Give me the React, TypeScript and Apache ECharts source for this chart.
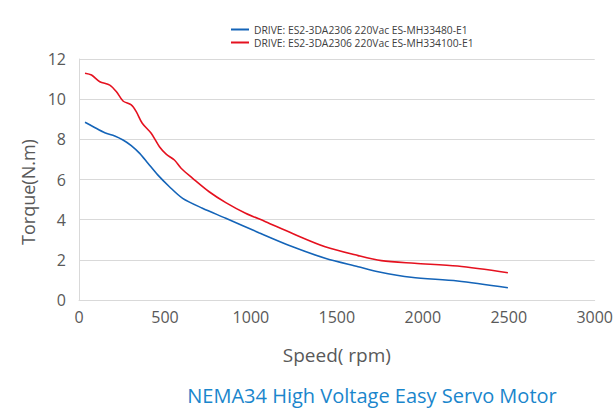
import React, { useEffect, useRef } from "react";
import * as echarts from "echarts";

const xTicks = [0, 500, 1000, 1500, 2000, 2500, 3000];
const yTicks = [0, 2, 4, 6, 8, 10, 12];

const seriesNames = [
  "DRIVE: ES2-3DA2306 220Vac ES-MH33480-E1",
  "DRIVE: ES2-3DA2306 220Vac ES-MH334100-E1",
];

const blueSpeed = [35, 83, 150, 208, 256, 304, 353, 401, 458, 526, 603, 718, 854, 1046, 1239, 1432, 1624, 1740, 1932, 2202, 2495];
const blueTorque = [8.85, 8.63, 8.33, 8.17, 7.97, 7.69, 7.3, 6.81, 6.23, 5.64, 5.06, 4.57, 4.07, 3.35, 2.66, 2.08, 1.66, 1.41, 1.13, 0.95, 0.61];

const redSpeed = [35, 73, 121, 179, 218, 256, 304, 333, 368, 420, 468, 507, 555, 594, 661, 757, 854, 969, 1085, 1239, 1432, 1624, 1759, 1952, 2202, 2495];
const redTorque = [11.29, 11.2, 10.87, 10.7, 10.37, 9.91, 9.71, 9.38, 8.8, 8.3, 7.63, 7.26, 6.97, 6.56, 6.06, 5.39, 4.85, 4.32, 3.9, 3.32, 2.65, 2.21, 1.96, 1.83, 1.69, 1.36];

const chartTitle = "NEMA34 High Voltage Easy Servo Motor";
const xName = "Speed( rpm)";
const yName = "Torque(N.m)";

const FONT = "'Open Sans', 'Noto Sans', sans-serif";

export default function App() {
  const ref = useRef<HTMLDivElement>(null);
  useEffect(() => {
    if (!ref.current) return;
    const chart = echarts.init(ref.current, undefined, { renderer: "svg" });
    const zip = (xs: number[], ys: number[]) => xs.map((x, i) => [x, ys[i]]);
    chart.setOption({
      animation: false,
      textStyle: { fontFamily: FONT },
      legend: {
        orient: "vertical",
        left: 226,
        top: 19,
        icon: "rect",
        itemWidth: 18,
        itemHeight: 2,
        itemGap: 2,
        textStyle: { fontSize: 10.3, lineHeight: 11, color: "#404040", fontFamily: FONT },
        data: seriesNames,
      },
      grid: { left: 79, right: 18, top: 59, bottom: 108, containLabel: false },
      xAxis: {
        type: "value",
        min: xTicks[0],
        max: xTicks[xTicks.length - 1],
        interval: 500,
        axisLine: { show: true, lineStyle: { color: "#d9d9d9", width: 1 } },
        axisTick: { show: false },
        splitLine: { show: false },
        axisLabel: {
          color: "#595959",
          fontSize: 16,
          margin: 9,
          fontFamily: FONT,
          formatter: (v: number) => String(v),
        },
        name: xName,
        nameLocation: "middle",
        nameGap: 45,
        nameTextStyle: { color: "#595959", fontSize: 19, fontFamily: FONT },
      },
      yAxis: {
        type: "value",
        min: yTicks[0],
        max: yTicks[yTicks.length - 1],
        interval: 2,
        axisLine: { show: true, lineStyle: { color: "#d9d9d9", width: 1 } },
        axisTick: { show: false },
        splitLine: { show: true, lineStyle: { color: "#d9d9d9", width: 1 } },
        axisLabel: {
          color: "#595959",
          fontSize: 16,
          margin: 13,
          fontFamily: FONT,
          formatter: (v: number) => String(v),
        },
      },
      series: [
        {
          name: seriesNames[0],
          type: "line",
          data: zip(blueSpeed, blueTorque),
          smooth: 0.3,
          showSymbol: false,
          symbol: "none",
          itemStyle: { color: "#1464b8" },
          lineStyle: { color: "#1464b8", width: 1.6 },
        },
        {
          name: seriesNames[1],
          type: "line",
          data: zip(redSpeed, redTorque),
          smooth: 0.3,
          showSymbol: false,
          symbol: "none",
          itemStyle: { color: "#e5111f" },
          lineStyle: { color: "#e5111f", width: 1.6 },
        },
      ],
      graphic: [
        {
          type: "text",
          x: 28,
          y: 192,
          rotation: Math.PI / 2,
          style: {
            text: yName,
            fill: "#595959",
            fontSize: 18,
            fontFamily: FONT,
            textAlign: "center",
            textVerticalAlign: "middle",
          },
        },
        {
          type: "text",
          x: 372,
          y: 395,
          style: {
            text: chartTitle,
            fill: "#1a86cc",
            fontSize: 20,
            fontFamily: FONT,
            textAlign: "center",
            textVerticalAlign: "middle",
          },
        },
      ],
    });
    return () => chart.dispose();
  }, []);
  return (
    <div
      ref={ref}
      style={{ position: "fixed", left: 0, top: 0, width: 616, height: 408, background: "#fff" }}
    />
  );
}
